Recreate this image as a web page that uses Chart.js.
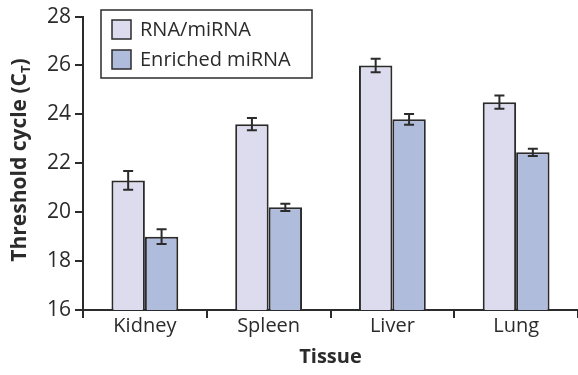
<!DOCTYPE html>
<html>
<head>
<meta charset="utf-8">
<script src="https://cdn.jsdelivr.net/npm/chart.js@4"></script>
<style>
  html, body { margin: 0; padding: 0; background: #fff; }
  #wrap { width: 578px; height: 375px; }
</style>
</head>
<body>
<div id="wrap"><canvas id="chart" width="578" height="375"></canvas></div>
<script>
var tissues = ['Kidney', 'Spleen', 'Liver', 'Lung'];
var totalRna = [21.3, 23.6, 26.0, 24.5];
var totalRnaErr = [0.38, 0.25, 0.28, 0.27];
var enriched = [19.0, 20.2, 23.8, 22.45];
var enrichedErr = [0.3, 0.15, 0.22, 0.15];
var yTicks = [16, 18, 20, 22, 24, 26, 28];

var FONT = '"Open Sans", "DejaVu Sans", sans-serif';
var INK = '#2b2b2b';

// whiskers on top of each bar
var errorBars = {
  id: 'errorBars',
  afterDatasetsDraw: function (chart) {
    var ctx = chart.ctx;
    var y = chart.scales.y;
    ctx.save();
    ctx.strokeStyle = INK;
    ctx.lineWidth = 2;
    chart.data.datasets.forEach(function (ds, i) {
      var meta = chart.getDatasetMeta(i);
      meta.data.forEach(function (bar, j) {
        var v = ds.data[j], e = ds.errors[j];
        var top = y.getPixelForValue(v + e), bot = y.getPixelForValue(v - e);
        var x = bar.x;
        ctx.beginPath();
        ctx.moveTo(x, top); ctx.lineTo(x, bot);
        ctx.moveTo(x - 5, top); ctx.lineTo(x + 5, top);
        ctx.moveTo(x - 5, bot); ctx.lineTo(x + 5, bot);
        ctx.stroke();
      });
    });
    ctx.restore();
  }
};

// boxed legend + axis title with subscript
var decorations = {
  id: 'decorations',
  afterDraw: function (chart) {
    var ctx = chart.ctx;
    ctx.save();
    // legend
    ctx.strokeStyle = INK;
    ctx.lineWidth = 1.5;
    ctx.strokeRect(101, 10, 211, 68);
    ctx.font = '20px ' + FONT;
    ctx.textBaseline = 'middle';
    chart.data.datasets.forEach(function (ds, i) {
      var cy = 29 + i * 30;
      ctx.fillStyle = ds.backgroundColor;
      ctx.fillRect(112, cy - 9, 19, 19);
      ctx.lineWidth = 1.5;
      ctx.strokeRect(112, cy - 9, 19, 19);
      ctx.fillStyle = INK;
      ctx.fillText(ds.label, 140, cy + 1);
    });
    // y title
    ctx.translate(20, 160);
    ctx.rotate(-Math.PI / 2);
    var big = 'bold 21px ' + FONT, small = 'bold 13px ' + FONT;
    var a = 'Threshold cycle (C', b = 'T', c = ')';
    ctx.font = big;
    var wa = ctx.measureText(a).width, wc = ctx.measureText(c).width;
    ctx.font = small;
    var wb = ctx.measureText(b).width;
    var x0 = -(wa + wb + wc) / 2;
    ctx.fillStyle = INK;
    ctx.textBaseline = 'middle';
    ctx.font = big;
    ctx.fillText(a, x0, 0);
    ctx.font = small;
    ctx.fillText(b, x0 + wa, 6);
    ctx.font = big;
    ctx.fillText(c, x0 + wa + wb, 0);
    ctx.restore();
  }
};

new Chart(document.getElementById('chart'), {
  type: 'bar',
  data: {
    labels: tissues,
    datasets: [
      { label: 'RNA/miRNA', data: totalRna, errors: totalRnaErr,
        backgroundColor: '#dcdcee', borderColor: INK, borderWidth: 2 },
      { label: 'Enriched miRNA', data: enriched, errors: enrichedErr,
        backgroundColor: '#b0bcdc', borderColor: INK, borderWidth: 2 }
    ]
  },
  options: {
    responsive: false,
    animation: false,
    layout: { padding: { top: 9, right: 0, left: 0, bottom: 0 } },
    categoryPercentage: 0.54,
    barPercentage: 1.0,
    plugins: { legend: { display: false }, tooltip: { enabled: false } },
    scales: {
      x: {
        grid: { offset: true, drawOnChartArea: false, drawTicks: true, tickLength: 8, color: INK, lineWidth: 2 },
        border: { color: INK, width: 2 },
        ticks: { color: INK, font: { family: FONT, size: 20 }, padding: -4 },
        title: { display: true, text: 'Tissue', color: INK, font: { family: FONT, size: 20, weight: 'bold' }, padding: { top: 0, bottom: 6 } },
        afterFit: function (s) { s.height = 65; }
      },
      y: {
        min: 16, max: 28,
        afterBuildTicks: function (s) { s.ticks = yTicks.map(function (v) { return { value: v }; }); },
        grid: { drawOnChartArea: false, drawTicks: true, tickLength: 8, color: INK, lineWidth: 2 },
        border: { color: INK, width: 2 },
        ticks: { color: INK, font: { family: FONT, size: 21 }, padding: 4 },
        afterFit: function (s) { s.width = 83; }
      }
    }
  },
  plugins: [errorBars, decorations]
});
</script>
</body>
</html>
